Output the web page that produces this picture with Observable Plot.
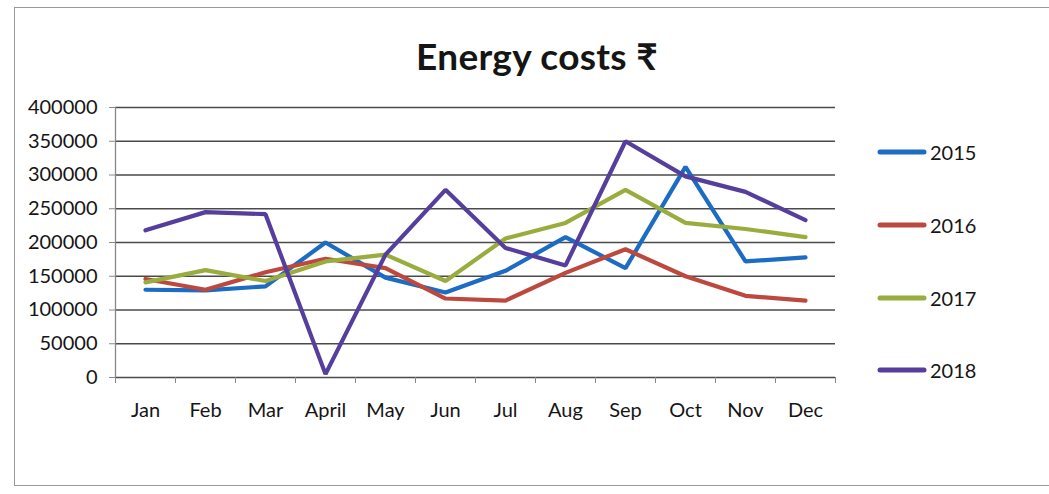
<!DOCTYPE html>
<html>
<head>
<meta charset="utf-8">
<script src="https://cdn.jsdelivr.net/npm/d3@7"></script>
<script src="https://cdn.jsdelivr.net/npm/@observablehq/plot@0.6"></script>
<style>
  html, body { margin: 0; padding: 0; background: #fff; }
  #wrap { position: relative; width: 1049px; height: 494px; overflow: hidden; font-family: Lato, "Noto Sans", sans-serif; }
  #frame { position: absolute; left: 14px; top: 7px; width: 1060px; height: 479px; border: 1.5px solid #999; box-sizing: border-box; }
  #title { position: absolute; left: 0; width: 1074px; top: 33px; text-align: center; font-size: 37px; font-weight: 700; color: #151515; letter-spacing: 0.3px; }
  #chart { position: absolute; left: 0; top: 0; }
  .leg { position: absolute; left: 877px; height: 24px; display: flex; align-items: center; font-size: 20px; color: #151515; }
  .leg svg { margin-right: 3px; }
</style>
</head>
<body>
<div id="wrap">
  <div id="frame"></div>
  <div id="title">Energy costs ₹</div>
  <div id="chart"></div>
</div>
<script>
const months = ["Jan","Feb","Mar","April","May","Jun","Jul","Aug","Sep","Oct","Nov","Dec"];
const years = ["2015","2016","2017","2018"];
const colors = ["#1b6cc2","#bd483e","#98ad3e","#563f9c"];
const yTicks = [0,50000,100000,150000,200000,250000,300000,350000,400000];
const v2015 = [130000,129000,135000,200000,148000,126000,158000,208000,162000,312000,172000,178000];
const v2016 = [146000,130000,156000,176000,162000,117000,114000,155000,190000,150000,121000,114000];
const v2017 = [141000,159000,143000,172000,182000,143000,206000,229000,278000,229000,220000,208000];
const v2018 = [218000,245000,242000,5000,182000,278000,192000,166000,350000,298000,275000,233000];
const series = [v2015, v2016, v2017, v2018];

const data = [];
years.forEach((yr, s) => months.forEach((m, i) => data.push({year: yr, month: m, idx: i, value: series[s][i]})));

const chart = Plot.plot({
  width: 1049,
  height: 494,
  marginLeft: 115,
  marginRight: 214,
  marginTop: 107,
  marginBottom: 117,
  x: {type: "linear", domain: [0, 12]},
  y: {domain: [0, 400000]},
  color: {domain: years, range: colors},
  style: {fontFamily: "Lato, 'Noto Sans', sans-serif", fontSize: "20px", background: "transparent", color: "#151515"},
  marks: [
    Plot.ruleY(yTicks, {stroke: "#4a4a4a", strokeWidth: 1.3}),
    Plot.ruleX([0], {stroke: "#888", strokeWidth: 1.3}),
    Plot.axisY({ticks: yTicks, tickFormat: d => String(d), tickSize: 6, tickPadding: 12, stroke: "#888", fill: "#151515", fontSize: 20, label: null}),
    Plot.axisX({ticks: d3.range(13), tickFormat: () => "", tickSize: 6, stroke: "#888", label: null}),
    Plot.text(months, {x: (d, i) => i + 0.5, frameAnchor: "bottom", dy: 39, fontSize: 20, fill: "#151515"}),
    Plot.line(data, {x: d => d.idx + 0.5, y: "value", z: "year", stroke: "year", strokeWidth: 4.2, strokeLinejoin: "miter", strokeLinecap: "round"})
  ]
});
document.getElementById("chart").appendChild(chart);

const legendTops = [152, 225, 298, 370];
const wrap = document.getElementById("wrap");
years.forEach((yr, i) => {
  const d = document.createElement("div");
  d.className = "leg";
  d.style.top = (legendTops[i] - 12) + "px";
  d.innerHTML = `<svg width="50" height="8"><line x1="3" y1="4" x2="47" y2="4" stroke="${colors[i]}" stroke-width="5" stroke-linecap="round"/></svg><span>${yr}</span>`;
  wrap.appendChild(d);
});
</script>
</body>
</html>
